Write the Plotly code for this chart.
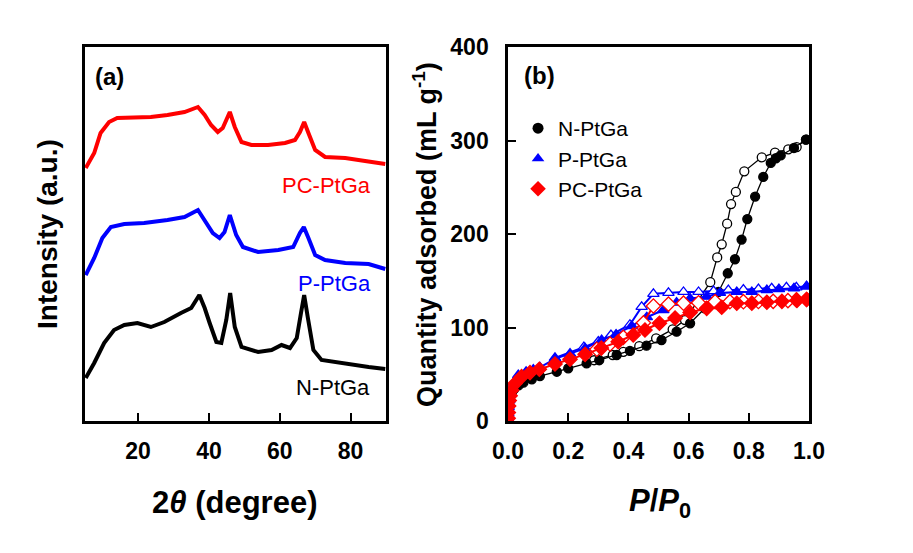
import plotly.graph_objects as go
from plotly.subplots import make_subplots

# ---------------- XRD data (a) ----------------
tt_N = [5.2, 7.6, 10.4, 13.2, 16.1, 19.8, 23.6, 27.4, 32.1, 35.0, 37.3, 38.8, 40.2, 42.1, 43.5, 44.9, 46.0, 47.3, 49.2, 53.9, 57.7, 60.5, 62.9, 64.8, 66.0, 66.9, 67.9, 69.5, 71.8, 78.5, 85.1, 89.8]
I_N = [43, 58, 78, 91, 96, 98, 94, 99, 108, 113, 126, 113, 98, 79, 78, 101, 128, 94, 74, 69, 71, 76, 73, 83, 108, 126, 104, 71, 61, 57, 54, 52]

tt_P = [5.2, 7.6, 9.9, 12.3, 16.1, 21.7, 28.3, 33.1, 36.9, 38.8, 41.1, 43.0, 44.4, 45.9, 47.7, 49.6, 53.9, 59.6, 63.8, 65.7, 66.8, 68.1, 70.0, 72.8, 78.5, 85.1, 89.8]
I_P = [146, 163, 183, 194, 197, 198, 201, 204, 211, 201, 188, 183, 189, 206, 186, 174, 169, 171, 174, 188, 194, 183, 166, 161, 158, 157, 152]

tt_PC = [5.2, 7.6, 9.4, 11.8, 14.1, 18.9, 23.6, 28.3, 33.1, 36.9, 38.8, 40.6, 42.5, 43.9, 45.9, 47.3, 49.2, 52.0, 56.7, 61.5, 64.3, 65.7, 66.9, 68.1, 70.0, 72.8, 78.5, 84.1, 89.8]
I_PC = [253, 268, 288, 299, 303, 304, 304, 306, 309, 314, 306, 296, 289, 293, 309, 294, 279, 276, 276, 278, 281, 289, 299, 288, 271, 264, 263, 260, 257]

xrd_ticks = [20, 40, 60, 80]

# ---------------- N2 isotherms (b) ----------------
N_ads_x = [0.0005, 0.001, 0.002, 0.004, 0.007, 0.012, 0.02, 0.035, 0.051, 0.079, 0.106, 0.162, 0.2, 0.261, 0.303, 0.361, 0.405, 0.46, 0.51, 0.56, 0.605, 0.654, 0.699, 0.73, 0.754, 0.776, 0.795, 0.821, 0.848, 0.873, 0.89, 0.906, 0.95, 0.99]
N_ads_y = [3, 8, 14, 20, 26, 30, 34, 38, 41, 44.6, 48, 52.7, 56.3, 61.6, 65, 70.6, 74.9, 80.6, 86.6, 95.5, 104.5, 120.5, 138, 158, 173, 194, 216, 240, 261, 276, 281, 284, 292, 301]
N_des_x = [0.99, 0.959, 0.931, 0.887, 0.843, 0.785, 0.757, 0.741, 0.728, 0.71, 0.695, 0.672, 0.588, 0.547, 0.492, 0.436, 0.383, 0.348, 0.286]
N_des_y = [301, 293, 290.6, 287, 282, 267, 245, 232, 211, 189, 175, 148.5, 108, 98, 88.4, 80, 74, 70.6, 65]

P_ads_x = [0.0005, 0.001, 0.002, 0.004, 0.007, 0.012, 0.02, 0.034, 0.06, 0.084, 0.106, 0.156, 0.206, 0.256, 0.311, 0.359, 0.411, 0.461, 0.516, 0.56, 0.605, 0.66, 0.704, 0.76, 0.81, 0.86, 0.9, 0.95, 0.992]
P_ads_y = [2, 8, 15, 22, 29, 35, 41, 49, 52.7, 55, 57.4, 66.5, 72, 77.7, 86.6, 92.5, 101.6, 111, 118.7, 126.6, 131, 133, 137, 138, 138, 140, 141, 142, 144]
P_des_x = [0.992, 0.958, 0.925, 0.876, 0.832, 0.782, 0.732, 0.683, 0.633, 0.583, 0.533, 0.483, 0.444, 0.405, 0.342, 0.3, 0.252, 0.156]
P_des_y = [144, 143, 143, 142, 141, 140.5, 140, 139, 138, 138, 137, 136, 122, 103, 92, 85, 79, 67.5]

PC_ads_x = [0.0005, 0.001, 0.002, 0.004, 0.007, 0.012, 0.023, 0.045, 0.073, 0.104, 0.156, 0.206, 0.256, 0.31, 0.366, 0.416, 0.455, 0.503, 0.555, 0.605, 0.66, 0.71, 0.76, 0.81, 0.86, 0.91, 0.96, 0.992]
PC_ads_y = [3, 9, 16, 22, 27, 33, 40, 47.4, 51.7, 55.3, 61, 66, 71.3, 78, 84.8, 92, 97.3, 104.5, 110.2, 116, 120.5, 121.6, 125.9, 126, 127, 128, 129, 130]
PC_des_x = [0.992, 0.958, 0.93, 0.881, 0.832, 0.782, 0.737, 0.688, 0.633, 0.583, 0.533, 0.483, 0.45, 0.383, 0.339, 0.295]
PC_des_y = [130, 129.5, 128.7, 128, 127.8, 127.6, 127.6, 127.6, 126.5, 126, 125, 123, 105, 89.5, 82.4, 76.7]

bet_xticks = [0.0, 0.2, 0.4, 0.6, 0.8, 1.0]
bet_yticks = [0, 100, 200, 300, 400]

FONT = "Liberation Sans, Arial, sans-serif"
BLACK, BLUE, RED = "#000000", "#0000FF", "#FF0000"

fig = make_subplots(rows=1, cols=2, horizontal_spacing=0.1686)
fig.update_xaxes(domain=[0, 0.4157], row=1, col=1)
fig.update_xaxes(domain=[0.5843, 1.0], row=1, col=2)

# XRD traces
for xs, ys, c in [(tt_N, I_N, BLACK), (tt_P, I_P, BLUE), (tt_PC, I_PC, RED)]:
    fig.add_trace(go.Scatter(x=xs, y=ys, mode="lines", line=dict(color=c, width=4),
                             showlegend=False, hoverinfo="skip"), row=1, col=1)

# Isotherms
def iso(xs, ys, color, symbol, size, filled, lw, name=None, legend=False):
    return go.Scatter(
        x=xs, y=ys, mode="lines+markers", name=name, showlegend=legend,
        line=dict(color=color, width=lw),
        marker=dict(symbol=symbol, size=size,
                    color=color if filled else "white",
                    line=dict(color=color, width=1.3)),
    )

fig.add_trace(iso(N_des_x, N_des_y, BLACK, "circle", 9, False, 1.3), row=1, col=2)
fig.add_trace(iso(N_ads_x, N_ads_y, BLACK, "circle", 9, True, 1.3), row=1, col=2)
fig.add_trace(iso(P_des_x, P_des_y, BLUE, "triangle-up", 10, False, 2), row=1, col=2)
fig.add_trace(iso(P_ads_x, P_ads_y, BLUE, "triangle-up", 10, True, 2), row=1, col=2)
fig.add_trace(iso(PC_des_x, PC_des_y, RED, "diamond", 11, False, 2), row=1, col=2)
fig.add_trace(iso(PC_ads_x, PC_ads_y, RED, "diamond", 11, True, 2), row=1, col=2)

# legend entries (markers only)
for nm, c, sym, sz in [("N-PtGa", BLACK, "circle", 11), ("P-PtGa", BLUE, "triangle-up", 11), ("PC-PtGa", RED, "diamond", 12)]:
    fig.add_trace(go.Scatter(x=[None], y=[None], mode="markers", name=nm,
                             marker=dict(symbol=sym, size=sz, color=c)), row=1, col=2)

axis_common = dict(showline=True, linewidth=2.5, linecolor="black", mirror=True,
                   ticks="inside", ticklen=8, tickwidth=2, tickcolor="black",
                   showgrid=False, zeroline=False,
                   tickfont=dict(family=FONT, size=23, color="black", weight=700))

fig.update_xaxes(**axis_common, range=[5, 90], tickvals=xrd_ticks, ticklabelstandoff=8, row=1, col=1)
fig.update_yaxes(showline=True, linewidth=2.5, linecolor="black", mirror=True,
                 showgrid=False, zeroline=False, showticklabels=False, ticks="",
                 range=[0, 374], row=1, col=1)
fig.update_xaxes(**axis_common, range=[0, 1.0], tickvals=bet_xticks, tickformat=".1f",
                 ticklabelstandoff=8, row=1, col=2)
fig.update_yaxes(**axis_common, range=[0, 400], tickvals=bet_yticks, ticklabelstandoff=12, row=1, col=2)

C = dict(xanchor="center", yanchor="middle", showarrow=False)
ann = []
ann.append(dict(text="<b>(a)</b>", xref="x domain", yref="y domain", x=0.083, y=0.92,
                font=dict(family=FONT, size=24, color="black"), **C))
ann.append(dict(text="<b>(b)</b>", xref="x2 domain", yref="y2 domain", x=0.106, y=0.925,
                font=dict(family=FONT, size=24, color="black"), **C))
for txt, xx, yy, c in [("PC-PtGa", 73.1, 236, RED), ("P-PtGa", 75.4, 138, BLUE), ("N-PtGa", 75.0, 34, BLACK)]:
    ann.append(dict(text=txt, xref="x", yref="y", x=xx, y=yy,
                    font=dict(family=FONT, size=22, color=c), **C))
ann.append(dict(text="<b>Intensity (a.u.)</b>", xref="paper", yref="paper", x=-0.0525, y=0.5,
                textangle=-90, font=dict(family=FONT, size=28, color="black"), **C))
ann.append(dict(text="<b>Quantity adsorbed (mL g<sup>-1</sup>)</b>", xref="paper", yref="paper",
                x=0.4696, y=0.5, textangle=-90,
                font=dict(family=FONT, size=27, color="black"), **C))
ann.append(dict(text="<b>2<i>θ</i> (degree)</b>", xref="paper", yref="paper", x=0.207, y=-0.219,
                font=dict(family=FONT, size=31, color="black"), **C))
ann.append(dict(text="<b><i>P</i>/<i>P</i><sub>0</sub></b>", xref="paper", yref="paper", x=0.794, y=-0.219,
                font=dict(family=FONT, size=31, color="black"), **C))

fig.update_layout(
    width=913, height=553,
    margin=dict(l=85, r=104, t=47, b=132),
    paper_bgcolor="white", plot_bgcolor="white",
    annotations=ann,
    legend=dict(x=0.5843 + 10 / 724, y=1 - (108 - 47) / 374, xanchor="left", yanchor="top",
                bgcolor="rgba(0,0,0,0)", font=dict(family=FONT, size=21, color="black"),
                itemwidth=30, tracegroupgap=0),
)

fig.write_html("out.html")
